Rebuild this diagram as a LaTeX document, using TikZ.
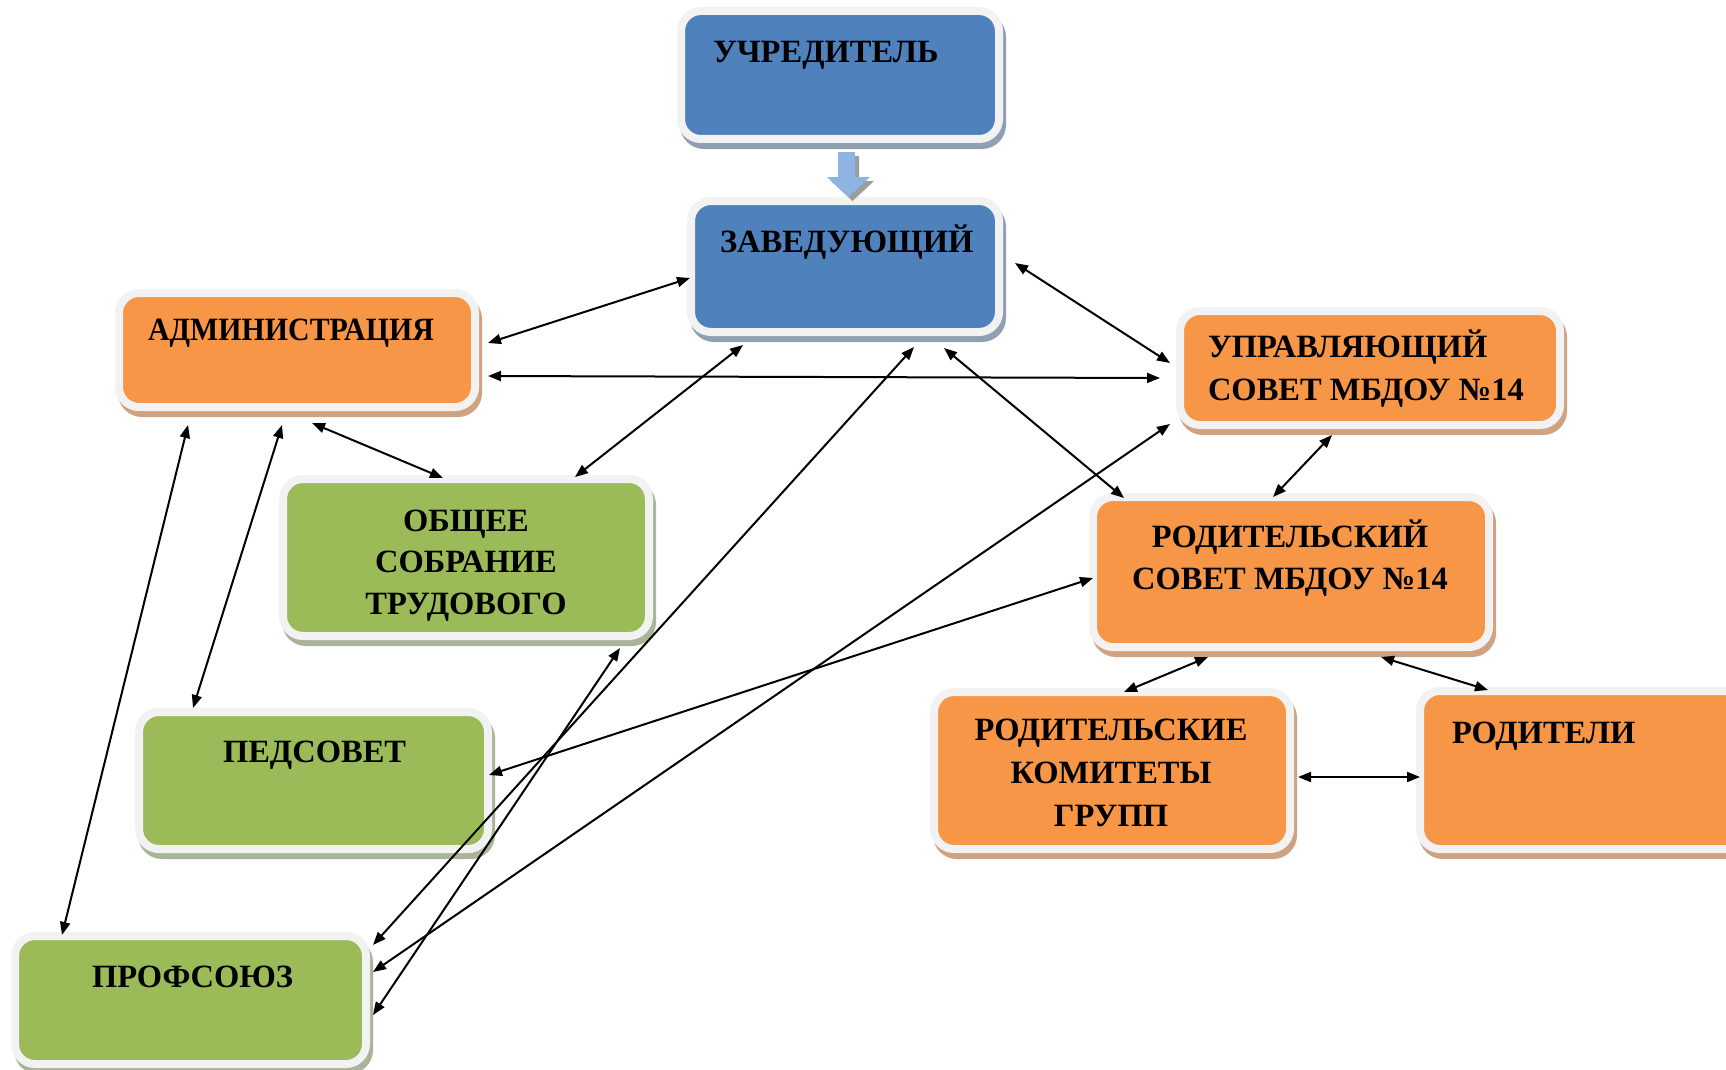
\documentclass[tikz,border=0pt]{standalone}
\usepackage{fontspec}
\setmainfont{Liberation Serif}
\usetikzlibrary{arrows.meta}
\definecolor{bxblue}{HTML}{4F81BD}
\definecolor{bxorange}{HTML}{F79646}
\definecolor{bxgreen}{HTML}{9BBB59}
\definecolor{bxborder}{HTML}{F2F2F2}
\definecolor{shblue}{HTML}{919FB3}
\definecolor{shorange}{HTML}{CFA282}
\definecolor{shgreen}{HTML}{A9B498}
\definecolor{arrblue}{HTML}{8DB4E2}
\definecolor{arrshadow}{HTML}{9C9C9C}
\begin{document}
\begin{tikzpicture}[x=1pt,y=-1pt,
  box/.style={rounded corners=20pt, line width=8pt, draw=bxborder, inner sep=0pt, outer sep=0pt},
  shd/.style={preaction={draw=#1, fill=#1, line width=8pt, transform canvas={shift={(3pt,-6pt)}}}},
  bluebox/.style={box, fill=bxblue, shd=shblue},
  orangebox/.style={box, fill=bxorange, shd=shorange},
  greenbox/.style={box, fill=bxgreen, shd=shgreen},
  lbl/.style={font=\fontsize{32.5}{40}\selectfont\bfseries, inner sep=0pt, outer sep=0pt},
  conn/.style={line width=2pt, {Triangle[length=13pt,width=10pt]}-{Triangle[length=13pt,width=10pt]}}
]
\useasboundingbox (0,0) rectangle (1726,1070);
\clip (0,0) rectangle (1726,1070);
\fill[white] (0,0) rectangle (1726,1070);

% boxes
\node[bluebox, minimum width=318pt, minimum height=128pt] (U) at (840,75) {};
\node[bluebox, minimum width=308pt, minimum height=131pt] (Z) at (845,266.5) {};
\node[orangebox, minimum width=356pt, minimum height=114pt] (A) at (297,350) {};
\node[orangebox, minimum width=380pt, minimum height=114pt] (UPR) at (1370,368) {};
\node[orangebox, minimum width=396pt, minimum height=150pt] (RS) at (1291,572) {};
\node[greenbox, minimum width=366pt, minimum height=157pt] (OS) at (466,557.5) {};
\node[greenbox, minimum width=349pt, minimum height=137pt] (PED) at (313.5,780.5) {};
\node[greenbox, minimum width=351pt, minimum height=128pt] (PROF) at (190.5,1000) {};
\node[orangebox, minimum width=356pt, minimum height=157pt] (RK) at (1112,770.5) {};
\node[orangebox, minimum width=344pt, minimum height=158pt] (ROD) at (1592,770) {};

% texts
\node[lbl, anchor=base west] (tU) at (713,63) {УЧРЕДИТЕЛЬ};
\node[lbl, anchor=base west] (tZ) at (720,252) {ЗАВЕДУЮЩИЙ};
\node[lbl, anchor=base west] (tA) at (148,340) {\scalebox{0.92}[1]{АДМИНИСТРАЦИЯ}};
\node[lbl, anchor=base west] (tUPR1) at (1208,357) {УПРАВЛЯЮЩИЙ};
\node[lbl, anchor=base west] (tUPR2) at (1208,400) {СОВЕТ МБДОУ №14};
\node[lbl, anchor=base] (tRS1) at (1290,547) {РОДИТЕЛЬСКИЙ};
\node[lbl, anchor=base] (tRS2) at (1290,589) {СОВЕТ МБДОУ №14};
\node[lbl, anchor=base] (tOS1) at (466,531) {ОБЩЕЕ};
\node[lbl, anchor=base] (tOS2) at (466,572) {СОБРАНИЕ};
\node[lbl, anchor=base] (tOS3) at (466,614) {ТРУДОВОГО};
\node[lbl, anchor=base west] (tPED) at (223,762) {ПЕДСОВЕТ};
\node[lbl, anchor=base west] (tPROF) at (92,987) {ПРОФСОЮЗ};
\node[lbl, anchor=base] (tRK1) at (1111,740) {РОДИТЕЛЬСКИЕ};
\node[lbl, anchor=base] (tRK2) at (1111,783) {КОМИТЕТЫ};
\node[lbl, anchor=base] (tRK3) at (1111,826) {ГРУПП};
\node[lbl, anchor=base west] (tROD) at (1452,743) {РОДИТЕЛИ};

% block arrow U -> Z
\fill[arrshadow] (842,156) -- (859,156) -- (859,181) -- (874,181) -- (852.5,201) -- (831,181) -- (842,181) -- cycle;
\fill[arrblue] (838,152) -- (855,152) -- (855,177) -- (870,177) -- (848.5,197) -- (827,177) -- (838,177) -- cycle;

% connectors
\draw[conn] ([shift={(191,-7)}]A.center) -- ([shift={(-155,11.5)}]Z.center);
\draw[conn] ([shift={(191,26)}]A.center) -- ([shift={(-210,10)}]UPR.center);
\draw[conn] ([shift={(170,-3.5)}]Z.center) -- ([shift={(-200,-5)}]UPR.center);
\draw[conn] ([shift={(99,81.5)}]Z.center) -- ([shift={(-167,-74)}]RS.center);
\draw[conn] ([shift={(-102,78.5)}]Z.center) -- ([shift={(109,-80.5)}]OS.center);
\draw[conn] ([shift={(69,80.5)}]Z.center) -- ([shift={(182.5,-55)}]PROF.center);
\draw[conn] ([shift={(15,73)}]A.center) -- ([shift={(-23,-79.5)}]OS.center);
\draw[conn] ([shift={(-15,75)}]A.center) -- ([shift={(-120.5,-72.5)}]PED.center);
\draw[conn] ([shift={(-109,75)}]A.center) -- ([shift={(-128.5,-65)}]PROF.center);
\draw[conn] ([shift={(-200,56)}]UPR.center) -- ([shift={(182.5,-28)}]PROF.center);
\draw[conn] ([shift={(-38,67)}]UPR.center) -- ([shift={(-18,-75)}]RS.center);
\draw[conn] ([shift={(-198,6)}]RS.center) -- ([shift={(175.5,-5.5)}]PED.center);
\draw[conn] ([shift={(154,90.5)}]OS.center) -- ([shift={(182.5,15)}]PROF.center);
\draw[conn] ([shift={(-83,85)}]RS.center) -- ([shift={(12,-78.5)}]RK.center);
\draw[conn] ([shift={(90,85)}]RS.center) -- ([shift={(-104,-80)}]ROD.center);
\draw[conn] ([shift={(186,6.5)}]RK.center) -- ([shift={(-172,7)}]ROD.center);
\end{tikzpicture}
\end{document}
